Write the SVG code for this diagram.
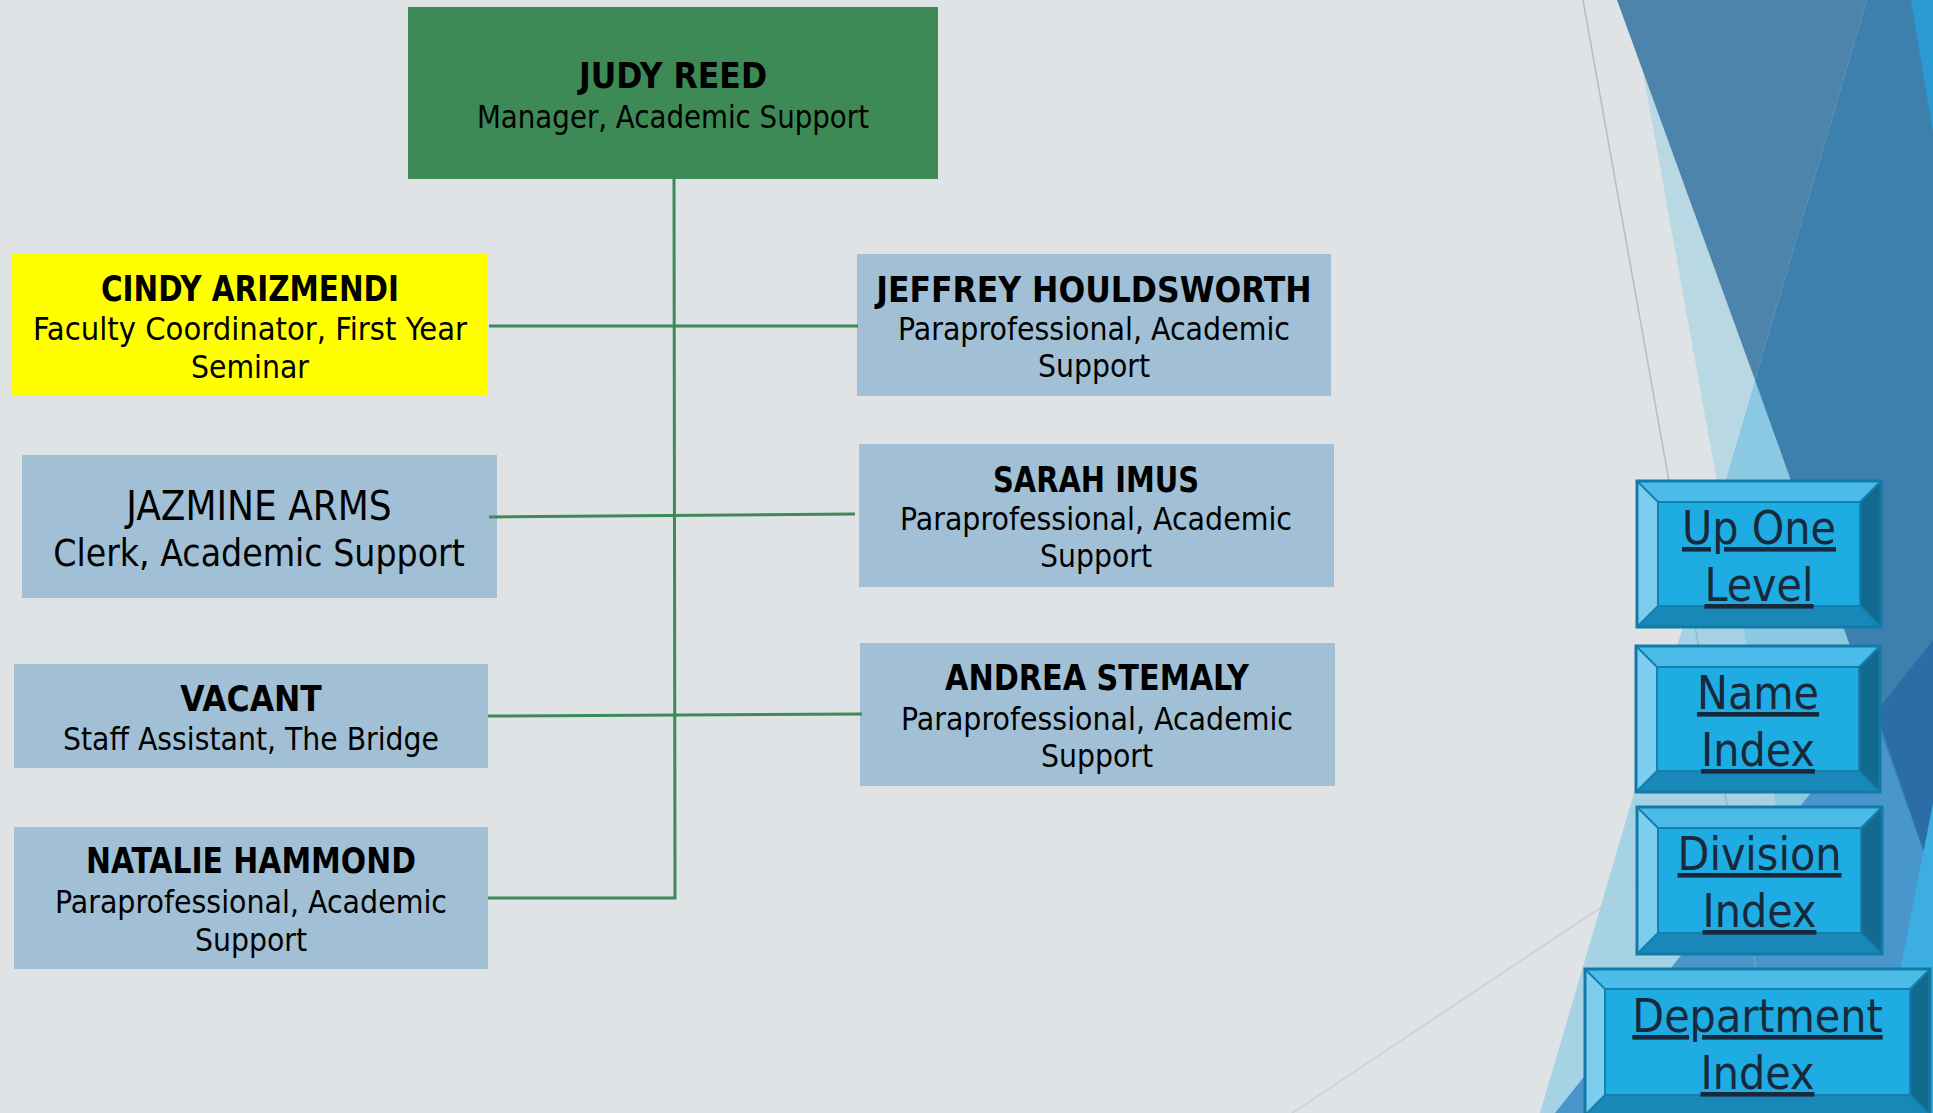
<svg xmlns="http://www.w3.org/2000/svg" width="1933" height="1113" viewBox="0 0 1933 1113">
<style>
.box{fill:#A1C0D6}
.t{font-family:"DejaVu Sans Condensed","DejaVu Sans",sans-serif;text-anchor:middle;fill:#000}
.nm{font-weight:bold;font-size:35px}
.sb{font-size:31.5px}
.conn{stroke:#3E8A57;stroke-width:3;fill:none}
.bt{fill:#4BBCE9}.bl{fill:#7DCDF1}.br{fill:#136A8F}.bb{fill:#1788B8}
.bf{fill:#1EACE3;stroke:#1580AE;stroke-width:2}
.bo{fill:none;stroke:#127AA7;stroke-width:3}
.bd{stroke:#1580AE;stroke-width:2}
.btxt{font-family:"DejaVu Sans Condensed","DejaVu Sans",sans-serif;font-size:46px;text-anchor:middle;fill:#17293A;text-decoration:underline}
</style>
<rect x="0" y="0" width="1933" height="1113" fill="#DFE3E6"/>
<g id="decor">
<polygon points="1867,0 1540,1113 1933,1113 1933,0" fill="#A6D2E5"/>
<polygon points="1720,499 1832,1113 1933,1113 1933,0 1867,0" fill="#8BC9E2"/>
<polygon points="1643,72 1755,380 1720,499" fill="#B8D9E4"/>
<polygon points="1933,640 1555,1113 1933,1113" fill="#4896CC"/>
<polygon points="1617,0 1867,0 1755,380" fill="#4D84AB"/>
<polygon points="1867,0 1933,0 1933,878 1755,380" fill="#3E80AD"/>
<polygon points="1933,640 1876,712 1933,878" fill="#2B6DA6"/>
<polygon points="1911,0 1933,0 1933,132" fill="#2A9BD3"/>
<polygon points="1933,803 1872,1113 1933,1113" fill="#3DAEE2"/>
<line x1="1583" y1="0" x2="1782" y2="1113" stroke="#9FA3A6" stroke-width="1.5" opacity="0.6"/>
<line x1="1292" y1="1113" x2="1780" y2="788" stroke="#C4C8CB" stroke-width="1.5" opacity="0.7"/>
</g>
<g id="judy-reed">
<rect x="408" y="7" width="530" height="172" fill="#3E8A57"/>
<text class="t nm" x="673" y="88">JUDY REED</text>
<text class="t sb" x="673" y="128" textLength="392" lengthAdjust="spacingAndGlyphs">Manager, Academic Support</text>
</g>
<g id="cindy-arizmendi">
<rect x="12" y="254" width="475" height="142" fill="#FFFF00"/>
<text class="t nm" x="250" y="301" textLength="298" lengthAdjust="spacingAndGlyphs">CINDY ARIZMENDI</text>
<text class="t sb" x="250" y="340" textLength="434" lengthAdjust="spacingAndGlyphs">Faculty Coordinator, First Year</text>
<text class="t sb" x="250" y="378">Seminar</text>
</g>
<g id="jeffrey-houldsworth">
<rect class="box" x="857" y="254" width="474" height="142"/>
<text class="t nm" x="1094" y="302">JEFFREY HOULDSWORTH</text>
<text class="t sb" x="1094" y="340" textLength="392" lengthAdjust="spacingAndGlyphs">Paraprofessional, Academic</text>
<text class="t sb" x="1094" y="377">Support</text>
</g>
<g id="jazmine-arms">
<rect class="box" x="22" y="455" width="475" height="143"/>
<text class="t" x="259" y="520" font-size="40">JAZMINE ARMS</text>
<text class="t" x="259" y="566" font-size="37">Clerk, Academic Support</text>
</g>
<g id="sarah-imus">
<rect class="box" x="859" y="444" width="475" height="143"/>
<text class="t nm" x="1096" y="492" textLength="206" lengthAdjust="spacingAndGlyphs">SARAH IMUS</text>
<text class="t sb" x="1096" y="530" textLength="392" lengthAdjust="spacingAndGlyphs">Paraprofessional, Academic</text>
<text class="t sb" x="1096" y="567">Support</text>
</g>
<g id="vacant">
<rect class="box" x="14" y="664" width="474" height="104"/>
<text class="t nm" x="251" y="711">VACANT</text>
<text class="t sb" x="251" y="750" textLength="376" lengthAdjust="spacingAndGlyphs">Staff Assistant, The Bridge</text>
</g>
<g id="andrea-stemaly">
<rect class="box" x="860" y="643" width="475" height="143"/>
<text class="t nm" x="1097" y="690" textLength="304" lengthAdjust="spacingAndGlyphs">ANDREA STEMALY</text>
<text class="t sb" x="1097" y="730" textLength="392" lengthAdjust="spacingAndGlyphs">Paraprofessional, Academic</text>
<text class="t sb" x="1097" y="767">Support</text>
</g>
<g id="natalie-hammond">
<rect class="box" x="14" y="827" width="474" height="142"/>
<text class="t nm" x="251" y="873" textLength="330" lengthAdjust="spacingAndGlyphs">NATALIE HAMMOND</text>
<text class="t sb" x="251" y="913" textLength="392" lengthAdjust="spacingAndGlyphs">Paraprofessional, Academic</text>
<text class="t sb" x="251" y="951">Support</text>
</g>
<g id="connectors">
<path class="conn" d="M674,179 L675,898 L488,898"/>
<line class="conn" x1="489" y1="326" x2="858" y2="326"/>
<line class="conn" x1="489" y1="517" x2="855" y2="514"/>
<line class="conn" x1="488" y1="716" x2="862" y2="714"/>
</g>
<g id="btn-up-one-level">
<polygon class="bt" points="1637,481 1881,481 1860,502 1658,502"/>
<polygon class="bl" points="1637,481 1658,502 1658,606 1637,627"/>
<polygon class="br" points="1881,481 1881,627 1860,606 1860,502"/>
<polygon class="bb" points="1637,627 1658,606 1860,606 1881,627"/>
<rect class="bf" x="1658" y="502" width="202" height="104"/>
<path class="bd" d="M1637,481 L1658,502 M1881,481 L1860,502 M1637,627 L1658,606 M1881,627 L1860,606"/>
<rect class="bo" x="1637" y="481" width="244" height="146"/>
<text class="btxt" x="1759" y="544">Up One</text>
<text class="btxt" x="1759" y="601">Level</text>
</g>
<g id="btn-name-index">
<polygon class="bt" points="1636,646 1880,646 1859,667 1657,667"/>
<polygon class="bl" points="1636,646 1657,667 1657,771 1636,792"/>
<polygon class="br" points="1880,646 1880,792 1859,771 1859,667"/>
<polygon class="bb" points="1636,792 1657,771 1859,771 1880,792"/>
<rect class="bf" x="1657" y="667" width="202" height="104"/>
<path class="bd" d="M1636,646 L1657,667 M1880,646 L1859,667 M1636,792 L1657,771 M1880,792 L1859,771"/>
<rect class="bo" x="1636" y="646" width="244" height="146"/>
<text class="btxt" x="1758" y="709">Name</text>
<text class="btxt" x="1758" y="766">Index</text>
</g>
<g id="btn-division-index">
<polygon class="bt" points="1637,807 1882,807 1861,828 1658,828"/>
<polygon class="bl" points="1637,807 1658,828 1658,933 1637,954"/>
<polygon class="br" points="1882,807 1882,954 1861,933 1861,828"/>
<polygon class="bb" points="1637,954 1658,933 1861,933 1882,954"/>
<rect class="bf" x="1658" y="828" width="203" height="105"/>
<path class="bd" d="M1637,807 L1658,828 M1882,807 L1861,828 M1637,954 L1658,933 M1882,954 L1861,933"/>
<rect class="bo" x="1637" y="807" width="245" height="147"/>
<text class="btxt" x="1759.5" y="870">Division</text>
<text class="btxt" x="1759.5" y="927">Index</text>
</g>
<g id="btn-department-index">
<polygon class="bt" points="1585,969 1930,969 1910,989 1605,989"/>
<polygon class="bl" points="1585,969 1605,989 1605,1095 1585,1115"/>
<polygon class="br" points="1930,969 1930,1115 1910,1095 1910,989"/>
<polygon class="bb" points="1585,1115 1605,1095 1910,1095 1930,1115"/>
<rect class="bf" x="1605" y="989" width="305" height="106"/>
<path class="bd" d="M1585,969 L1605,989 M1930,969 L1910,989 M1585,1115 L1605,1095 M1930,1115 L1910,1095"/>
<rect class="bo" x="1585" y="969" width="345" height="146"/>
<text class="btxt" x="1757.5" y="1032">Department</text>
<text class="btxt" x="1757.5" y="1089">Index</text>
</g>
</svg>
